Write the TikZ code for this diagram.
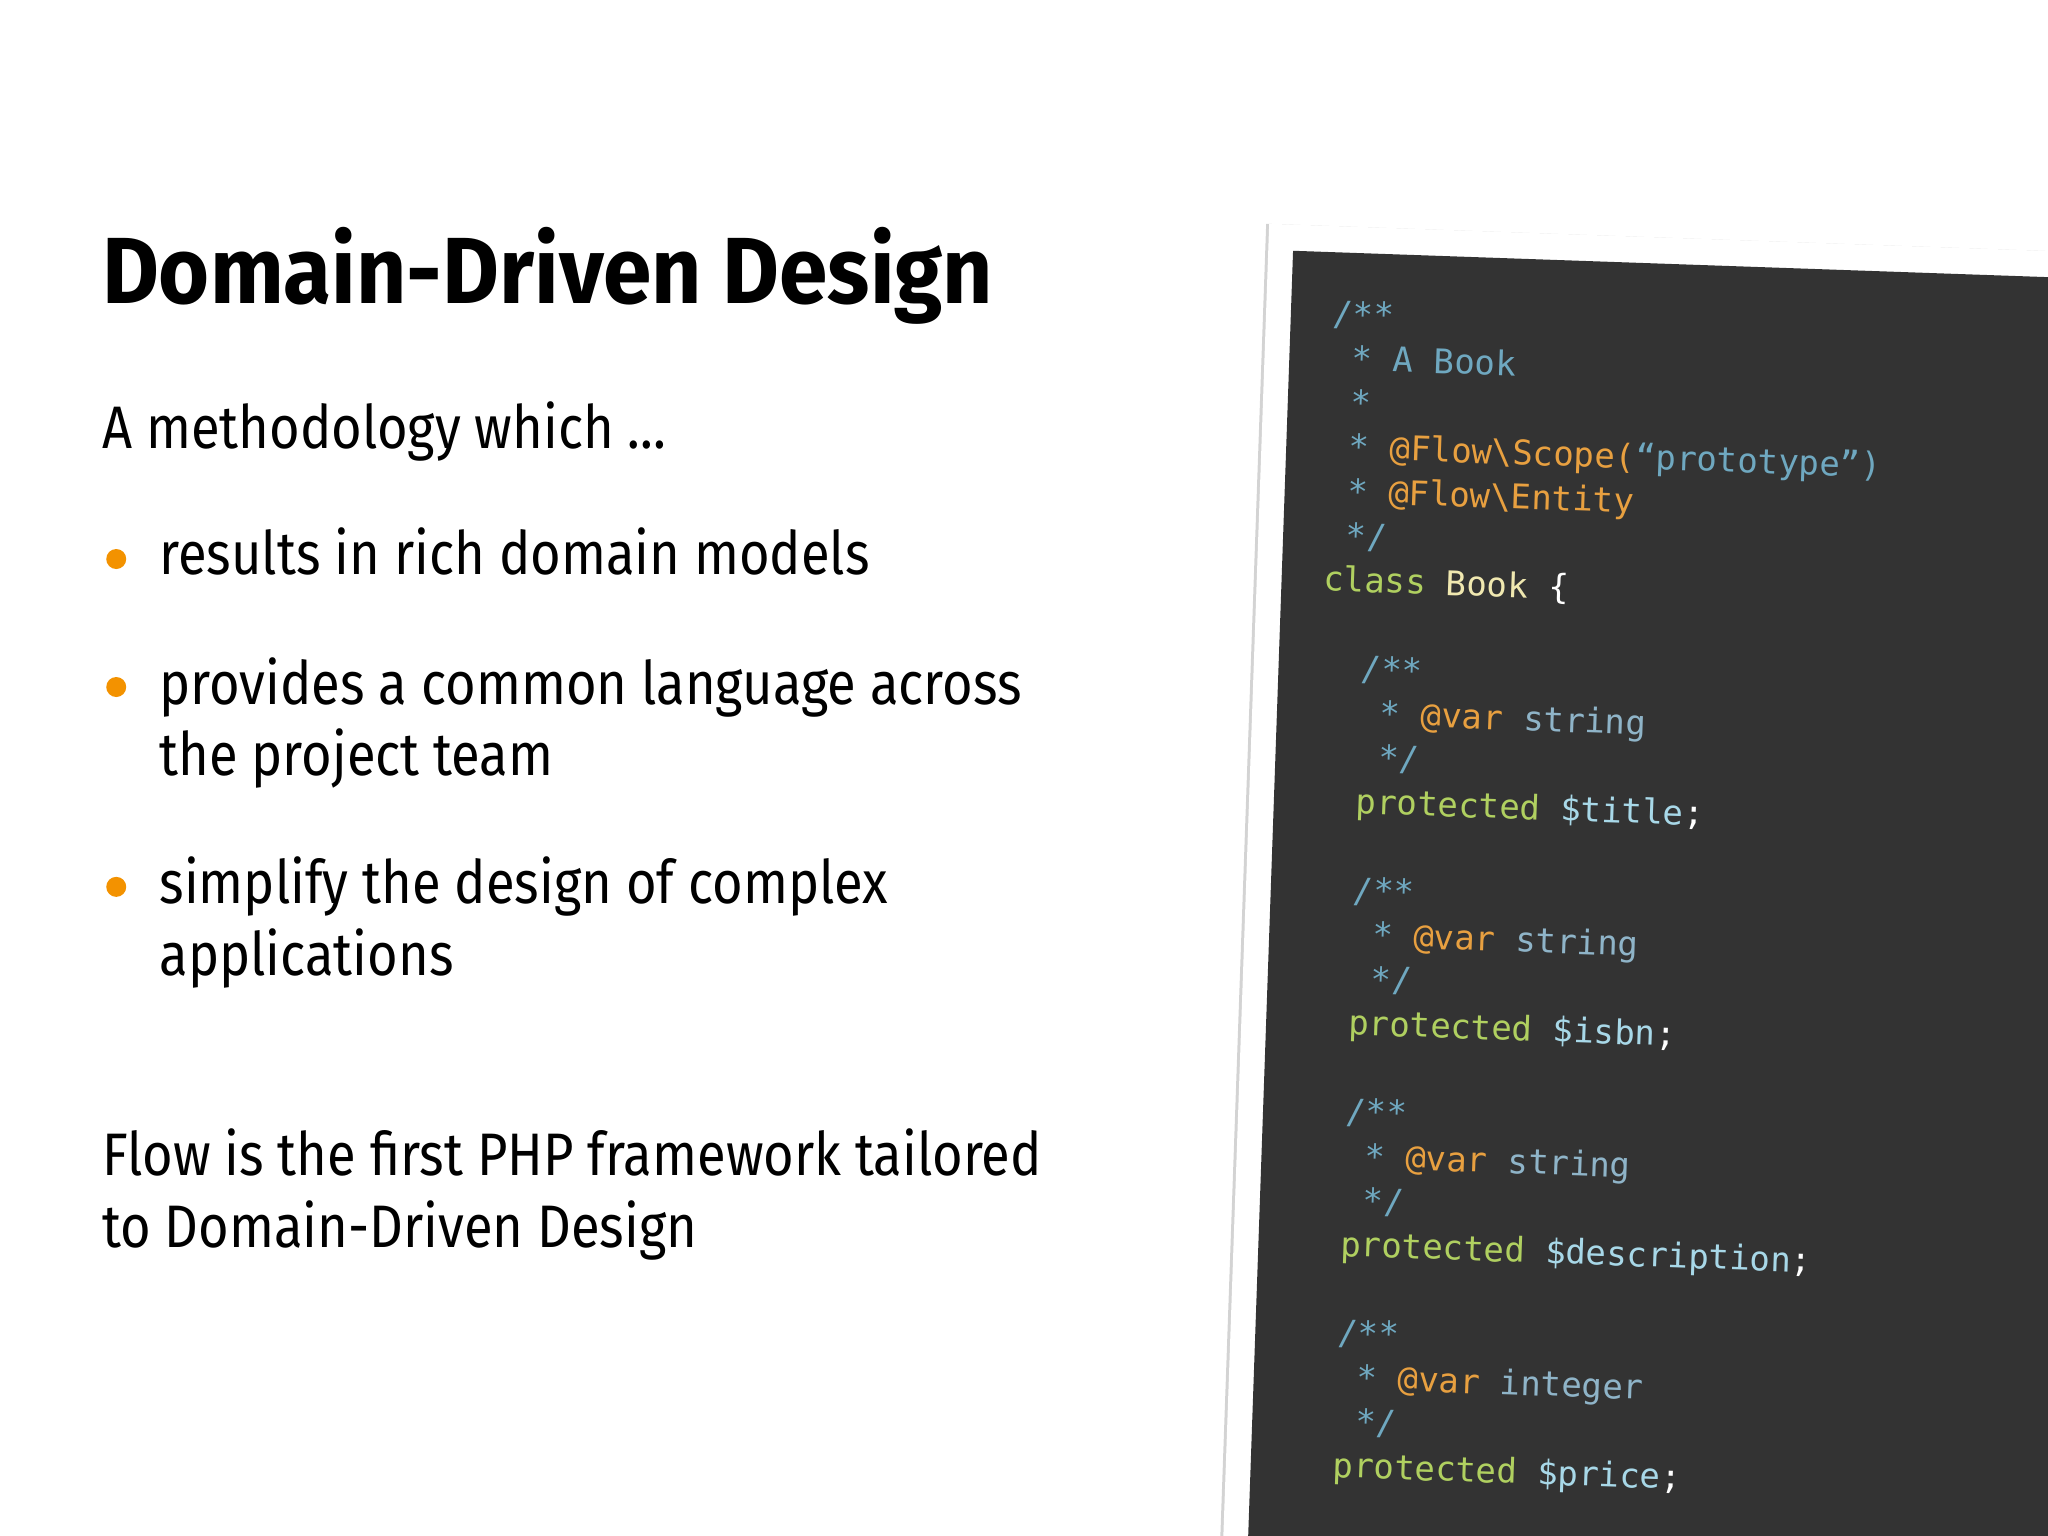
\documentclass[tikz,border=0pt]{standalone}
\usepackage{fontspec}
\setmainfont{Fira Sans}[FakeStretch=0.875]
\newfontfamily\titlefont{Fira Sans}[FakeStretch=0.93]
\setmonofont{DejaVu Sans Mono}
\usetikzlibrary{shadows}
\definecolor{panel}{HTML}{333333}
\definecolor{ccm}{HTML}{6FA8C0}
\definecolor{can}{HTML}{E8A040}
\definecolor{ckw}{HTML}{B0D060}
\definecolor{ccl}{HTML}{F0E8B0}
\definecolor{cvr}{HTML}{A8D8E8}
\definecolor{cty}{HTML}{8FB4C8}
\definecolor{orangeb}{HTML}{F39200}
\newcommand\fsz[1]{\fontsize{#1}{#1}\selectfont}
\newcommand\cm[1]{\textcolor{ccm}{#1}}
\newcommand\an[1]{\textcolor{can}{#1}}
\newcommand\kw[1]{\textcolor{ckw}{#1}}
\newcommand\clname[1]{\textcolor{ccl}{#1}}
\newcommand\vr[1]{\textcolor{cvr}{#1}}
\newcommand\ty[1]{\textcolor{cty}{#1}}
\tikzset{
 txt/.style={anchor=base west,inner sep=0pt,font=\fsz{60}},
 ttl/.style={anchor=base west,inner sep=0pt,font=\titlefont\bfseries\fsz{94}},
 code/.style={anchor=base west,inner sep=0pt,transform shape,font=\ttfamily\fsz{34},text=white},
 dot/.style={circle,fill=orangeb,inner sep=0pt,minimum size=20pt}
}
\begin{document}
\begin{tikzpicture}[x=1.30612pt,y=-1.30612pt]
\useasboundingbox (0,0) rectangle (1568,1176);
\begin{scope}
\clip (0,0) rectangle (1568,1176);
\begin{scope}[shift={(990,192)},rotate=-2]
\fill[white,drop shadow={shadow xshift=-3pt,shadow yshift=0pt,opacity=0.35}] (-19,-20) rectangle (760,1150);
\fill[panel] (0,0) rectangle (760,1150);
\def\ly#1{56+33.9*#1}
\node[code] (l0) at (32,{\ly{0}}) {\cm{/**}};
\node[code] (l1) at (48,{\ly{1}}) {\cm{* A Book}};
\node[code] (l2) at (48,{\ly{2}}) {\cm{*}};
\node[code] (l3) at (48,{\ly{3}}) {\cm{*} \an{@Flow\textbackslash Scope(}\cm{“prototype”)}};
\node[code] (l4) at (48,{\ly{4}}) {\cm{*} \an{@Flow\textbackslash Entity}};
\node[code] (l5) at (48,{\ly{5}}) {\cm{*/}};
\node[code] (l6) at (32,{\ly{6}}) {\kw{class} \clname{Book} \{};
\foreach \b/\v/\t in {8/title/string,13/isbn/string,18/description/string,23/price/integer}{
 \node[code] at (63,{\ly{\b}}) {\cm{/**}};
 \node[code] at (79,{\ly{(\b+1)}}) {\cm{*} \an{@var} \ty{\t}};
 \node[code] at (79,{\ly{(\b+2)}}) {\cm{*/}};
 \node[code] at (63,{\ly{(\b+3)}}) {\kw{protected} \vr{\$\v};};
}
\node[code] (l28) at (63,{\ly{28}}) {\cm{/**}};
\end{scope}
\end{scope}
\node[ttl] (title) at (78,232) {Domain-Driven Design};
\node[txt] (intro) at (78,343) {A methodology which \dots};
\node[dot] (d1) at (89,428) {};
\node[txt] (b1) at (122,440) {results in rich domain models};
\node[dot] (d2) at (89,526) {};
\node[txt] (b2a) at (122,539) {provides a common language across};
\node[txt] (b2b) at (122,594) {the project team};
\node[dot] (d3) at (89,679) {};
\node[txt] (b3a) at (122,692) {simplify the design of complex};
\node[txt] (b3b) at (122,747) {applications};
\node[txt] (f1) at (78,900) {Flow is the first PHP framework tailored};
\node[txt] (f2) at (78,955) {to Domain-Driven Design};
\end{tikzpicture}
\end{document}
